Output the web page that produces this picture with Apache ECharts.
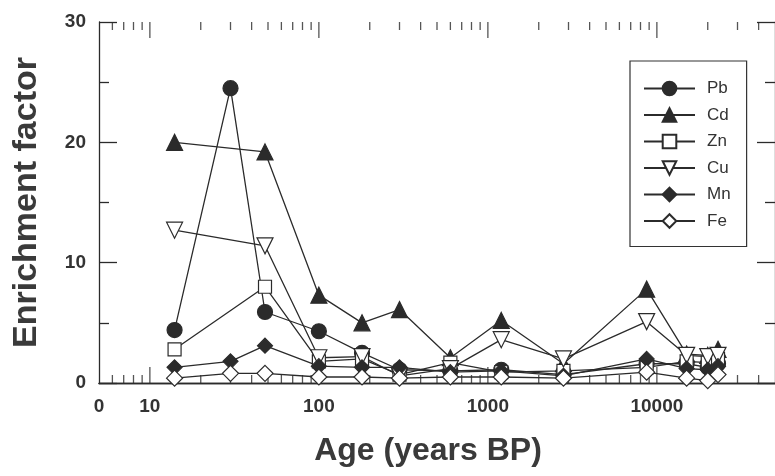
<!DOCTYPE html>
<html>
<head>
<meta charset="utf-8">
<script src="https://cdn.jsdelivr.net/npm/echarts@6/dist/echarts.min.js"></script>
<style>
  html, body { margin: 0; padding: 0; background: #fff; }
  #chart { width: 775px; height: 476px; }
</style>
</head>
<body>
<div id="chart"></div>
<script>
var dom = document.getElementById('chart');
var myChart = echarts.init(dom, null, { renderer: 'canvas' });

// ages (years BP) and enrichment factors
let ages = [14, 30, 48, 100, 180, 300, 600, 1200, 2800, 8700, 15000, 20000, 23000];
let pb = [4.4, 24.5, 5.9, 4.3, 2.5, 1.1, 1.0, 1.1, 0.7, 1.6, 1.6, 1.3, 1.6];
let cd = [20.0, null, 19.2, 7.3, 5.0, 6.1, 2.1, 5.2, 1.6, 7.8, 2.4, 2.3, 2.8];
let zn = [2.8, null, 8.0, 1.8, 2.0, 0.7, 1.7, 0.9, 1.0, 1.3, 1.8, 1.7, 2.0];
let cu = [12.7, null, 11.4, 2.1, 2.2, 0.6, 1.2, 3.6, 2.0, 5.1, 2.3, 2.2, 2.3];
let mn = [1.3, 1.8, 3.1, 1.4, 1.3, 1.3, 0.9, 1.0, 0.6, 2.0, 1.2, 1.1, 1.4];
let fe = [0.4, 0.8, 0.8, 0.5, 0.5, 0.4, 0.5, 0.5, 0.4, 0.9, 0.4, 0.2, 0.7];

// tick positions on the log age axis
let majorTicks = [10, 100, 1000, 10000];
let minorTicks = [6, 7, 8, 9, 20, 30, 40, 50, 60, 70, 80, 90,
  200, 300, 400, 500, 600, 700, 800, 900,
  2000, 3000, 4000, 5000, 6000, 7000, 8000, 9000,
  20000, 30000, 40000];

var ink = '#2b2b2b';
var font = '"Liberation Sans", Arial, sans-serif';

function pairs(vals) {
    return ages.map(function (a, i) { return [a, vals[i]]; });
}

function lineSeries(name, vals, symbol, size, filled, rotate) {
    return {
        name: name,
        type: 'line',
        data: pairs(vals),
        connectNulls: true,
        symbol: symbol,
        symbolSize: size,
        symbolRotate: rotate || 0,
        showAllSymbol: true,
        lineStyle: { color: ink, width: 1.3 },
        itemStyle: {
            color: filled ? ink : '#fff',
            borderColor: ink,
            borderWidth: 1.2
        },
        emphasis: { disabled: true }
    };
}

// short vertical marks on the bottom (y=0) and top (y=30) edges
function tickSeries(ticks, y, len) {
    return {
        type: 'scatter',
        data: ticks.map(function (v) { return [v, y]; }),
        symbol: 'rect',
        symbolSize: [1.3, len],
        symbolOffset: [0, y === 0 ? -len / 2 : len / 2],
        itemStyle: { color: ink },
        silent: true,
        clip: false,
        z: 1
    };
}

var xBase = {
    type: 'log',
    logBase: 10,
    min: 5,
    max: 50000,
    axisLine: { lineStyle: { color: ink, width: 1.3 } },
    axisTick: { show: false },
    splitLine: { show: false },
    minorTick: { show: false }
};

var yBase = {
    type: 'value',
    min: 0,
    max: 30,
    interval: 10,
    axisLine: { show: true, lineStyle: { color: ink, width: 1.3 } },
    axisTick: { show: true, inside: true, length: 18, lineStyle: { color: ink, width: 1.3 } },
    minorTick: { show: true, splitNumber: 2, length: 10, lineStyle: { color: ink, width: 1.3 } },
    splitLine: { show: false }
};

var option = {
    backgroundColor: '#fff',
    animation: false,
    grid: { left: 99, top: 22, width: 681, height: 361 },
    legend: {
        data: ['Pb', 'Cd', 'Zn', 'Cu', 'Mn', 'Fe'],
        orient: 'vertical',
        left: 630,
        top: 61,
        padding: [19, 16, 17, 13],
        itemWidth: 51,
        itemHeight: 17,
        itemGap: 9.5,
        borderColor: '#333',
        borderWidth: 1.2,
        selectedMode: false,
        textStyle: { color: '#333', fontSize: 17, fontFamily: font, padding: [0, 0, 0, 7] }
    },
    xAxis: [
        Object.assign({}, xBase, {
            position: 'bottom',
            name: 'Age (years BP)',
            nameLocation: 'middle',
            nameGap: 52,
            nameTextStyle: { color: '#3a3a3a', fontSize: 32, fontWeight: 'bold', fontFamily: font, padding: [0, 18, 0, 0] },
            axisLabel: {
                color: '#333',
                fontSize: 19,
                fontWeight: 'bold',
                fontFamily: font,
                margin: 14,
                showMaxLabel: false,
                formatter: function (v) {
                    if (v < 8) return '0';
                    if (v > 20000) return '';
                    return String(Math.round(v));
                }
            }
        }),
        Object.assign({}, xBase, {
            position: 'top',
            axisLabel: { show: false }
        })
    ],
    yAxis: [
        Object.assign({}, yBase, {
            position: 'left',
            name: 'Enrichment factor',
            nameLocation: 'middle',
            nameGap: 55,
            nameTextStyle: { color: '#3a3a3a', fontSize: 34, fontWeight: 'bold', fontFamily: font },
            axisLabel: { color: '#333', fontSize: 19, fontWeight: 'bold', fontFamily: font, margin: 13 }
        }),
        Object.assign({}, yBase, {
            position: 'right',
            axisLabel: { show: false }
        })
    ],
    series: [
        tickSeries(minorTicks, 0, 8),
        tickSeries(minorTicks, 30, 8),
        tickSeries(majorTicks, 0, 16),
        tickSeries(majorTicks, 30, 16),
        lineSeries('Pb', pb, 'circle', 15, true),
        lineSeries('Cd', cd, 'triangle', 16, true),
        lineSeries('Zn', zn, 'rect', 13, false),
        lineSeries('Cu', cu, 'triangle', 16, false, 180),
        lineSeries('Mn', mn, 'diamond', 15, true),
        lineSeries('Fe', fe, 'diamond', 16, false)
    ]
};

myChart.setOption(option);
window.addEventListener('resize', myChart.resize);
</script>
</body>
</html>
